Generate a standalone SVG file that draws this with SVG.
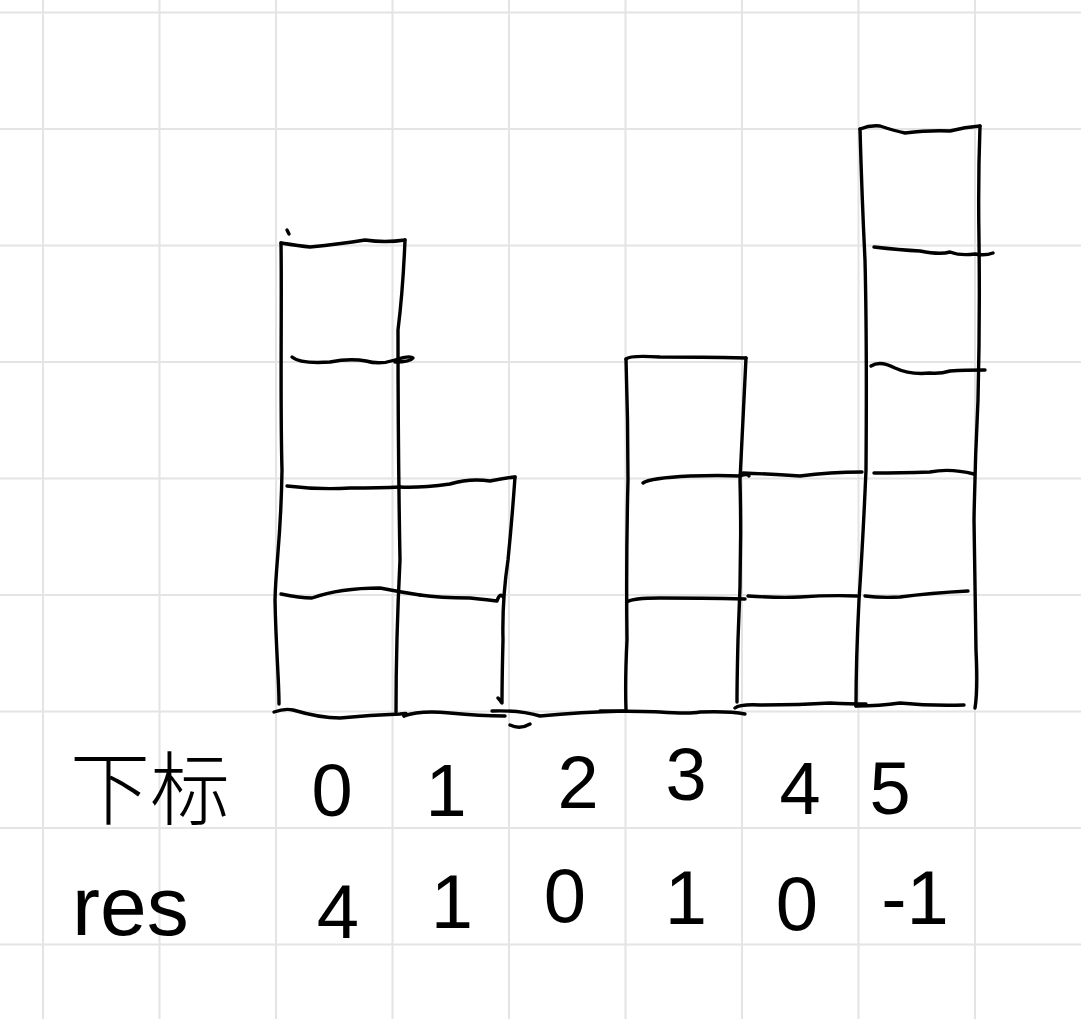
<svg xmlns="http://www.w3.org/2000/svg" width="1081" height="1019" viewBox="0 0 1081 1019">
<style>
.grid line{stroke:#e4e4e4;stroke-width:2}
.ink{fill:none;stroke:#000;stroke-width:3.4;stroke-linecap:round;stroke-linejoin:round}
.lbl{font-family:"Liberation Sans","Noto Sans CJK SC",sans-serif;fill:#000}
.cjk{font-family:"Noto Sans CJK SC","Noto Sans CJK JP",sans-serif;font-weight:300;fill:#000}
</style>
<rect width="1081" height="1019" fill="#fff"/>
<g class="grid">
<line x1="43" y1="0" x2="43" y2="1019"/><line x1="159.5" y1="0" x2="159.5" y2="1019"/>
<line x1="276" y1="0" x2="276" y2="1019"/><line x1="392.5" y1="0" x2="392.5" y2="1019"/>
<line x1="509" y1="0" x2="509" y2="1019"/><line x1="625.5" y1="0" x2="625.5" y2="1019"/>
<line x1="742" y1="0" x2="742" y2="1019"/><line x1="858.5" y1="0" x2="858.5" y2="1019"/>
<line x1="975" y1="0" x2="975" y2="1019"/>
<line x1="0" y1="12.5" x2="1081" y2="12.5"/><line x1="0" y1="129" x2="1081" y2="129"/>
<line x1="0" y1="245.5" x2="1081" y2="245.5"/><line x1="0" y1="362" x2="1081" y2="362"/>
<line x1="0" y1="478.5" x2="1081" y2="478.5"/><line x1="0" y1="595" x2="1081" y2="595"/>
<line x1="0" y1="711.5" x2="1081" y2="711.5"/><line x1="0" y1="828" x2="1081" y2="828"/>
<line x1="0" y1="944.5" x2="1081" y2="944.5"/>
</g>
<g id="bar0">
<path class="ink" d="M287 230 l2 4"/>
<path class="ink" d="M281 243 C282 300 280 400 282 470 C281 540 276 560 275 600 C276 650 279 680 279 704"/>
<path class="ink" d="M281 243 Q300 246 310 247 Q340 244 365 240 Q385 243 405 240"/>
<path class="ink" d="M405 240 Q403 290 398 330 Q398 450 400 560 Q396 640 396 712"/>
<path class="ink" d="M292 357 Q300 364 330 362 Q350 358 366 361 Q380 365 395 360 Q410 355 413 358 Q410 362 395 362"/>
<path class="ink" d="M287 486 Q320 490 350 488 Q380 488 400 487"/>
<path class="ink" d="M281 594 Q300 598 312 598 Q340 588 380 588 Q400 592 420 595"/>
<path class="ink" d="M274 712 Q285 708 293 710 Q320 718 340 718 Q370 715 400 714 Q410 712 404 716"/>
</g>
<g id="bar1">
<path class="ink" d="M400 487 Q420 488 450 484 Q470 478 490 481 Q505 478 515 477"/>
<path class="ink" d="M515 477 Q512 520 508 560 Q502 600 503 640 Q502 680 502 703 Q500 700 498 698"/>
<path class="ink" d="M420 595 Q440 598 470 598 Q490 600 497 601 Q500 592 503 597"/>
<path class="ink" d="M404 716 Q420 710 450 713 Q480 716 505 716"/>
</g>
<g id="bar2">
<path class="ink" d="M492 711 Q520 710 540 716 Q580 712 625 711"/>
<path class="ink" d="M510 725 Q520 730 530 724"/>
</g>
<g id="bar3">
<path class="ink" d="M626 359 Q630 355 660 357 Q700 357 746 358"/>
<path class="ink" d="M626 359 Q628 420 628 480 Q626 560 627 640 Q625 680 626 710"/>
<path class="ink" d="M746 358 Q743 420 740 480 Q742 560 738 640 Q737 680 737 702"/>
<path class="ink" d="M643 483 Q650 478 690 476 Q720 475 740 476 Q748 473 749 476"/>
<path class="ink" d="M627 602 Q632 598 660 598 Q700 598 745 599"/>
<path class="ink" d="M600 711 Q640 711 660 712 Q690 714 700 712 Q730 711 745 714"/>
</g>
<g id="bar4">
<path class="ink" d="M743 473 Q770 474 800 476 Q830 472 862 472"/>
<path class="ink" d="M748 596 Q780 598 800 597 Q830 595 857 596"/>
<path class="ink" d="M735 708 Q740 704 760 705 Q800 705 830 703 Q850 704 866 704"/>
</g>
<g id="bar5">
<path class="ink" d="M860 129 Q870 125 880 126 Q895 131 905 133 Q930 130 950 131 Q965 127 980 126"/>
<path class="ink" d="M860 129 Q862 200 865 260 Q867 340 866 470 Q863 540 859 600 Q856 660 856 706"/>
<path class="ink" d="M980 126 Q978 180 979 240 Q980 320 978 400 Q975 460 974 520 Q975 600 976 650 Q978 690 975 708"/>
<path class="ink" d="M874 247 Q900 250 920 251 Q940 255 950 252 Q960 256 975 254 Q985 256 993 253"/>
<path class="ink" d="M871 366 Q880 360 895 368 Q910 375 930 373 Q940 374 950 371 Q965 370 985 370"/>
<path class="ink" d="M874 473 Q900 473 930 472 Q950 468 974 474"/>
<path class="ink" d="M865 596 Q880 598 900 597 Q930 593 968 591"/>
<path class="ink" d="M856 706 Q880 706 900 703 Q930 706 964 705"/>
</g>
<g id="labels">
<text class="cjk" x="70" y="818" font-size="80">下标</text>
<g class="lbl" font-size="74" text-anchor="middle">
<text x="332" y="816">0</text>
<text x="446" y="816">1</text>
<text x="578" y="808">2</text>
<text x="686" y="800">3</text>
<text x="800" y="814">4</text>
<text x="890" y="814">5</text>
</g>
<text class="lbl" x="72" y="935" font-size="84">res</text>
<g class="lbl" font-size="76" text-anchor="middle">
<text x="338" y="938">4</text>
<text x="452" y="928">1</text>
<text x="565" y="922">0</text>
<text x="686" y="924">1</text>
<text x="797" y="930">0</text>
<text x="915" y="924">-1</text>
</g>
</g>
</svg>
